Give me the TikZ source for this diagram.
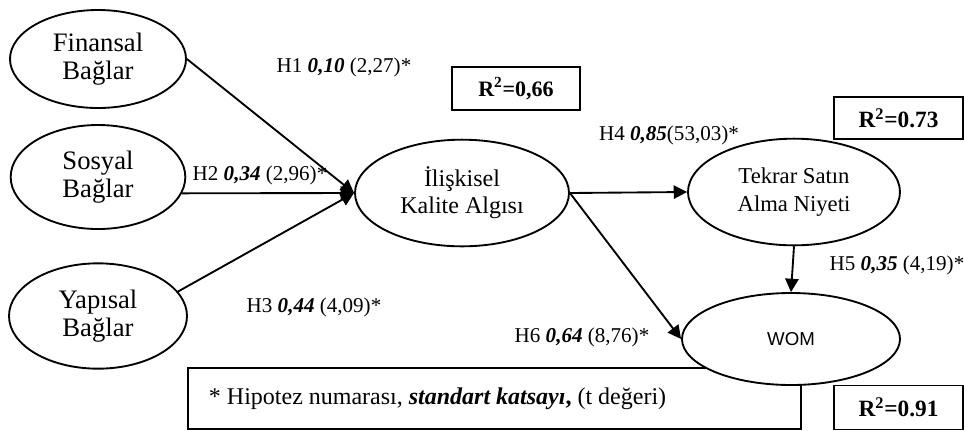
\documentclass[tikz,border=0pt]{standalone}
\usepackage{fontspec}
\setmainfont{Liberation Serif}
\newfontfamily\womfont{Liberation Sans}
\usetikzlibrary{arrows.meta,shapes.geometric}

\begin{document}
\begin{tikzpicture}[x=0.75pt,y=-0.75pt,line width=1.4pt,>={Triangle[length=10pt,width=10pt]},every node/.style={align=center,inner sep=0pt},oval/.style={draw,ellipse,fill=white,font=\fontsize{20}{21.5}\selectfont},inner/.style={draw,ellipse,fill=white,font=\fontsize{17}{20.5}\selectfont},rbox/.style={draw,fill=white,minimum width=96.75pt,minimum height=31.5pt,font=\fontsize{17.5}{20}\selectfont\bfseries},lab/.style={font=\fontsize{15.8}{18}\selectfont}]
\useasboundingbox (0,0) rectangle (964,430);
% sources
\node[oval,minimum width=132pt,minimum height=73.5pt] (fin) at (98,59) {Finansal\\Bağlar};
\node[oval,minimum width=131pt,minimum height=78pt] (sos) at (98,177) {Sosyal\\Bağlar};
\node[oval,minimum width=133.5pt,minimum height=79pt] (yap) at (98,316) {Yapısal\\Bağlar};
% legend and R2 boxes
\node[draw,anchor=north west,minimum width=459.75pt,minimum height=45.75pt] (leg) at (187,367) {};
\node[anchor=west,font=\fontsize{18}{20}\selectfont] (legt) at ([xshift=15.75pt]leg.west) {* Hipotez numarası, \textbf{\textit{standart katsayı}}\textbf{,} (t değeri)};
\node[rbox,minimum width=96pt,minimum height=32.25pt,font=\fontsize{16.5}{19}\selectfont\bfseries] (r1) at (516,88.5) {R\textsuperscript{2}=0,66};
\node[rbox] (r2) at (898.5,118) {R\textsuperscript{2}=0.73};
\node[rbox,minimum height=33pt] (r3) at (898.5,407.5) {R\textsuperscript{2}=0.91};
% constructs
\node[inner,minimum width=160.5pt,minimum height=80pt,font=\fontsize{18}{20.5}\selectfont] (ili) at (462,193) {İlişkisel\\Kalite Algısı};
\node[inner,minimum width=159pt,minimum height=80pt] (tek) at (794,192) {Tekrar Satın\\Alma Niyeti};
\node[inner,minimum width=163.5pt,minimum height=69pt,font=\fontsize{14}{16}\womfont] (wom) at (791,339) {WOM};
% paths
\draw[->] (fin.east)--(ili.west);\draw[->] (sos.-11)--(ili.west);\draw[->] (yap.17)--(ili.west);
\draw[->] (ili.east)--(tek.west);\draw[->] (ili.east)--(wom.west);\draw[->] (tek.south)--(wom.north);
% coefficients
\node[lab] (h1) at (344,67) {H1 \textbf{\textit{0,10}} (2,27)*};
\node[lab] (h2) at (260,175) {H2 \textbf{\textit{0,34}} (2,96)*};
\node[lab] (h3) at (314,307) {H3 \textbf{\textit{0,44}} (4,09)*};
\node[lab] (h4) at (669,135) {H4 \textbf{\textit{0,85}}(53,03)*};
\node[lab] (h5) at (897,265) {H5 \textbf{\textit{0,35}} (4,19)*};
\node[lab] (h6) at (582,337) {H6 \textbf{\textit{0,64}} (8,76)*};
\end{tikzpicture}
\end{document}
